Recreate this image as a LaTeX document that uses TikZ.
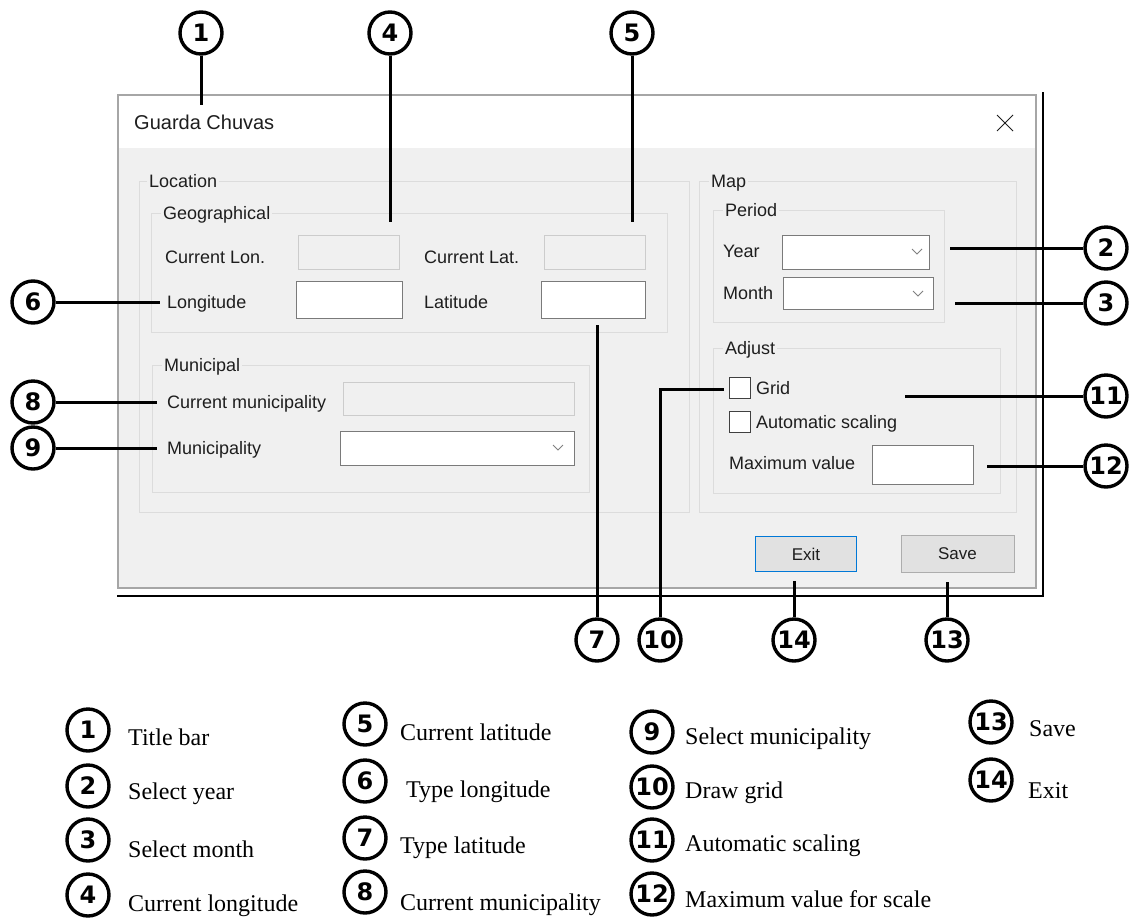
\documentclass[tikz,border=0pt]{standalone}
\usepackage{fontspec}
\setmainfont{Liberation Serif}
\setsansfont{Liberation Sans}
\newfontfamily\numfont{DejaVu Sans}
\usepackage{tikz}
\usetikzlibrary{positioning}
\definecolor{winbg}{HTML}{F0F0F0}
\definecolor{grpline}{HTML}{DCDCDC}
\definecolor{boxline}{HTML}{7A7A7A}
\definecolor{offline}{HTML}{CCCCCC}
\definecolor{btnfill}{HTML}{E1E1E1}
\definecolor{btnblue}{HTML}{0078D7}
\definecolor{btnline}{HTML}{ADADAD}
\definecolor{uitext}{HTML}{1E1E1E}
\tikzset{
  num/.style={circle,draw=black,line width=3.4pt,minimum size=42pt,inner sep=0pt,
    font=\numfont\bfseries\fontsize{24}{24}\selectfont},
  lbl/.style={anchor=west,inner sep=0pt,text=uitext,text height=13pt,text depth=0pt,
    font=\sffamily\fontsize{18}{18}\selectfont},
  grp/.style={lbl,fill=winbg,inner sep=2pt},
  legtxt/.style={anchor=west,inner sep=0pt,text height=16pt,text depth=0pt,
    font=\fontsize{24}{24}\selectfont},
  inbox/.style={draw=boxline,fill=white,line width=1pt},
  offbox/.style={draw=offline,fill=winbg,line width=1pt},
  grpbox/.style={draw=grpline,line width=1pt},
  chev/.style={draw=gray,line width=1pt},
  btn/.style={fill=btnfill,line width=1.5pt,inner sep=0pt,text=uitext,
    font=\sffamily\fontsize{17}{17}\selectfont},
  callout/.style={line width=3pt},
}
\begin{document}
\begin{tikzpicture}[x=1pt,y=-1pt]
\useasboundingbox (0,0) rectangle (1132,919);
%window
\draw[black,line width=1.5pt](1043,92)--(1043,596)--(117,596);
\fill[winbg](118,95) rectangle (1036,588);
\fill[white](118,95) rectangle (1036,148);
\draw[gray!70,line width=1.5pt](118,95) rectangle (1036,588);
\node[lbl,font=\sffamily\fontsize{20}{20}\selectfont] (title) at(134,123){Guarda Chuvas};
\draw[uitext,line width=1pt](997,115)--(1013,131) (997,131)--(1013,115);
%location
\draw[grpbox](139,181) rectangle (689,512);
\node[grp] (loc) at(147,181){Location};
\draw[grpbox](151,213) rectangle (667,332);
\node[grp] (geo) at(161,213){Geographical};
\node[lbl] (curlon) at(165,257){Current Lon.};
\draw[offbox](298,235) rectangle (399,269);
\node[lbl] (curlat) at(424,257){Current Lat.};
\draw[offbox](544,235) rectangle (645,269);
\node[lbl] (lon) at(167,302){Longitude};
\draw[inbox](296,281) rectangle (402,318);
\node[lbl] (lat) at(424,302){Latitude};
\draw[inbox](541,281) rectangle (645,318);
\draw[grpbox](152,365) rectangle (589,492);
\node[grp] (mun) at(162,365){Municipal};
\node[lbl] (curmun) at(167,402){Current municipality};
\draw[offbox](343,382) rectangle (574,415);
\node[lbl] (munsel) at(167,448){Municipality};
\draw[inbox](340,431) rectangle (574,465);
\draw[chev](553,445)--(558,450)--(563,445);
%map
\draw[grpbox](699,181) rectangle (1016,512);
\node[grp] (map) at(709,181){Map};
\draw[grpbox](713,210) rectangle (944,322);
\node[grp] (per) at(723,210){Period};
\node[lbl] (year) at(723,251){Year};
\draw[inbox](782,235) rectangle (929,269);
\draw[chev](912,249)--(917,254)--(922,249);
\node[lbl] (month) at(723,293){Month};
\draw[inbox](783,277) rectangle (933,309);
\draw[chev](913,291)--(918,296)--(923,291);
\draw[grpbox](713,348) rectangle (1000,493);
\node[grp] (adj) at(723,348){Adjust};
\draw[inbox,draw=darkgray](729,377) rectangle (750,398);
\node[lbl] (grid) at(756,388){Grid};
\draw[inbox,draw=darkgray](729,411) rectangle (750,432);
\node[lbl] (auto) at(756,422){Automatic scaling};
\node[lbl] (maxv) at(729,463){Maximum value};
\draw[inbox](872,445) rectangle (973,484);
%buttons
\node[btn,draw=btnblue,minimum width=101pt,minimum height=35pt] (exit) at(806,554){Exit};
\node[btn,draw=btnline,line width=1pt,minimum width=113pt,minimum height=37pt] (save) at(957.5,553.5){Save};
%callouts
\node[num] (c1) at(201,33){1};
\node[num] (c4) at(390,33){4};
\node[num] (c5) at(632,33){5};
\node[num] (c2) at(1106,248){2};
\node[num] (c3) at(1106,303){3};
\node[num] (c6) at(33,302){6};
\node[num] (c8) at(33,402){8};
\node[num] (c9) at(33,448){9};
\node[num] (c11) at(1106,396){11};
\node[num] (c12) at(1106,466){12};
\node[num] (c7) at(597,640){7};
\node[num] (c10) at(660,640){10};
\node[num] (c14) at(794,640){14};
\node[num] (c13) at(947,640){13};
\coordinate (t1) at(201,105);
\coordinate (t4) at(390,222);
\coordinate (t5) at(632,222);
\coordinate (t2) at(950,248);
\coordinate (t3) at(955,303);
\coordinate (t6) at(160,302);
\coordinate (t8) at(157,402);
\coordinate (t9) at(157,448);
\coordinate (t11) at(905,396);
\coordinate (t12) at(987,466);
\coordinate (t7) at(597,325);
\coordinate (t10) at(724,389);
\coordinate (t14) at(794,581);
\coordinate (t13) at(947,582);
\draw[callout](c1)--(t1);
\draw[callout](c4)--(t4);
\draw[callout](c5)--(t5);
\draw[callout](c2)--(t2);
\draw[callout](c3)--(t3);
\draw[callout](c6)--(t6);
\draw[callout](c8)--(t8);
\draw[callout](c9)--(t9);
\draw[callout](c11)--(t11);
\draw[callout](c12)--(t12);
\draw[callout](c7)--(t7);
\draw[callout](c10)|-(t10);
\draw[callout](c14)--(t14);
\draw[callout](c13)--(t13);
%legend
\node[num] (l1) at(88,730){1};
\node[num] (l2) at(88,786){2};
\node[num] (l3) at(88,840){3};
\node[num] (l4) at(88,895){4};
\node[legtxt] (l1t) at(128,737){Title bar};
\node[legtxt] (l2t) at(128,791){Select year};
\node[legtxt] (l3t) at(128,849){Select month};
\node[legtxt] (l4t) at(128,903){Current longitude};
\node[num] (l5) at(365,724){5};
\node[num] (l6) at(365,781){6};
\node[num] (l7) at(365,838){7};
\node[num] (l8) at(365,892){8};
\node[legtxt] (l5t) at(400,732){Current latitude};
\node[legtxt] (l6t) at(406,789){Type longitude};
\node[legtxt] (l7t) at(400,845){Type latitude};
\node[legtxt] (l8t) at(400,902){Current municipality};
\node[num] (l9) at(652,732){9};
\node[num] (l10) at(652,787){10};
\node[num] (l11) at(652,840){11};
\node[num] (l12) at(652,894){12};
\node[legtxt] (l9t) at(685,736){Select municipality};
\node[legtxt] (l10t) at(685,790){Draw grid};
\node[legtxt] (l11t) at(685,843){Automatic scaling};
\node[legtxt] (l12t) at(685,899){Maximum value for scale};
\node[num] (l13) at(991,722){13};
\node[num] (l14) at(991,780){14};
\node[legtxt] (l13t) at(1029,728){Save};
\node[legtxt] (l14t) at(1028,790){Exit};
\end{tikzpicture}
\end{document}
